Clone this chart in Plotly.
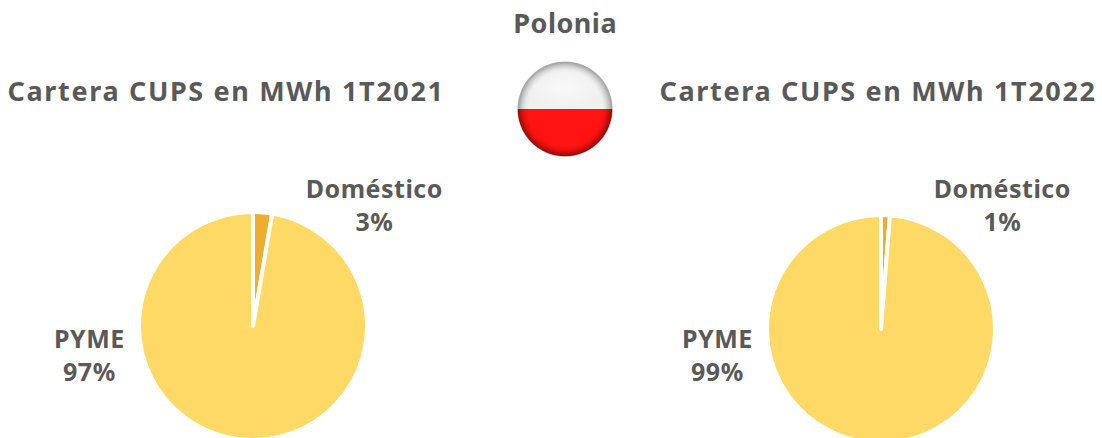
import base64, struct, zlib
import numpy as np
import plotly.graph_objects as go

W, H = 1102, 444
labels = ["Doméstico", "PYME"]
values_2021 = [2.7, 97.3]
values_2022 = [1.25, 98.75]
colors = ["#EDAD2F", "#FFD966"]
title_main = "Polonia"
title_left = "Cartera CUPS en MWh 1T2021"
title_right = "Cartera CUPS en MWh 1T2022"
FONT = "Noto Sans"
GREY = "#595959"


def flag_uri(n=192):
    # Glossy round Polish flag as a small generated PNG
    y, x = np.mgrid[0:n, 0:n]
    c = (n - 1) / 2
    dx, dy = (x - c) / c, (y - c) / c
    r = np.sqrt(dx**2 + dy**2)
    img = np.zeros((n, n, 4))
    top = np.array([240, 240, 240.0])
    bot = np.array([255, 20, 18.0])
    img[..., :3] = np.where((dy < 0)[..., None], top, bot)
    shade = np.clip((r - 0.78) / 0.22, 0, 1) ** 1.6
    dark_top = np.array([150, 150, 150.0])
    dark_bot = np.array([135, 10, 8.0])
    dark = np.where((dy < 0)[..., None], dark_top, dark_bot)
    img[..., :3] = img[..., :3] * (1 - shade[..., None]) + dark * shade[..., None]
    gloss = np.clip(1 - np.sqrt(dx**2 + ((dy + 0.45) / 0.55) ** 2) / 0.85, 0, 1)[..., None] * (dy < 0)[..., None]
    img[..., :3] = img[..., :3] * (1 - 0.6 * gloss) + 255 * 0.6 * gloss
    img[..., 3] = np.clip((1 - r) * c / 1.5, 0, 1) * 255
    raw = b"".join(b"\x00" + row.tobytes() for row in img.astype(np.uint8))

    def chunk(t, d):
        return struct.pack(">I", len(d)) + t + d + struct.pack(">I", zlib.crc32(t + d))

    png = b"\x89PNG\r\n\x1a\n" + chunk(b"IHDR", struct.pack(">IIBBBBB", n, n, 8, 6, 0, 0, 0)) + chunk(b"IDAT", zlib.compress(raw)) + chunk(b"IEND", b"")
    return "data:image/png;base64," + base64.b64encode(png).decode()


def px(x):
    return x / W


def py(y):
    return 1 - y / H


def pie(values, cx, cy, r):
    return go.Pie(
        labels=labels, values=values, sort=False, direction="clockwise", rotation=0,
        domain=dict(x=[px(cx - r), px(cx + r)], y=[py(cy + r), py(cy - r)]),
        marker=dict(colors=colors, line=dict(color="white", width=4)),
        textinfo="none", hoverinfo="label+percent", showlegend=False,
    )


fig = go.Figure([pie(values_2021, 253, 326, 114), pie(values_2022, 881, 329, 114)])


def note(text, x, y, size):
    fig.add_annotation(text=text, x=px(x), y=py(y), xref="paper", yref="paper", showarrow=False,
                       xanchor="center", yanchor="middle", align="center",
                       font=dict(family=FONT, size=size, color=GREY, weight="bold"))


def pie_text(i, vals):
    return f"{labels[i]}<br>{vals[i] / sum(vals):.0%}"


note(title_main, 565, 22, 27)
note(title_left, 226, 90, 27)
note(title_right, 878, 90, 27)
note(pie_text(0, values_2021), 374, 204, 25)
note(pie_text(1, values_2021), 89, 354, 25)
note(pie_text(0, values_2022), 1002, 204, 25)
note(pie_text(1, values_2022), 717, 354, 25)

fig.add_layout_image(source=flag_uri(), xref="paper", yref="paper", x=px(517), y=py(61), sizex=96 / W, sizey=96 / H,
                     xanchor="left", yanchor="top", sizing="stretch", layer="above")
fig.update_layout(width=W, height=H, margin=dict(l=0, r=0, t=0, b=0), paper_bgcolor="white", plot_bgcolor="white")
post = """
document.documentElement.style.overflow='hidden';
document.body.style.margin='0';
document.body.style.overflow='hidden';
document.querySelectorAll('.annotation-text').forEach(function(t){
  var s=t.textContent; t.style.letterSpacing = s.indexOf('Cartera')===0 ? '1.65px' : '0.5px';
});
"""
fig.write_html("out.html", config=dict(displayModeBar=False), post_script=post)
